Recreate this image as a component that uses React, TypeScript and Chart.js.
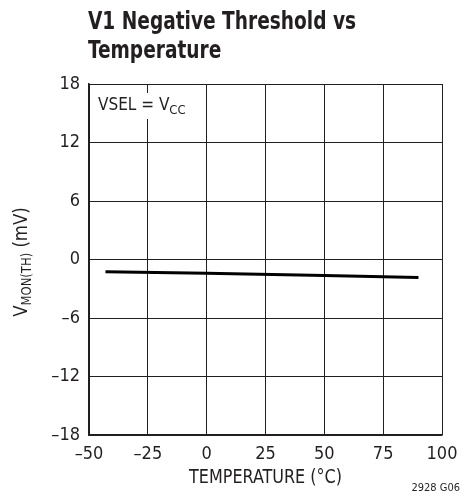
import React, { useEffect, useRef } from "react";
import { Chart, registerables } from "chart.js";

Chart.register(...registerables);

const temperatures = [-43, 0, 50, 90];
const thresholdMv = [-1.25, -1.42, -1.63, -1.85];
const xTicks = [-50, -25, 0, 25, 50, 75, 100];
const yTicks = [-18, -12, -6, 0, 6, 12, 18];
const titleLines = ["V1 Negative Threshold vs", "Temperature"];
const xTitle = "TEMPERATURE (°C)";
const footnote = "2928 G06";

const FONT = '"Liberation Sans Narrow", "DejaVu Sans Condensed", "Arial Narrow", sans-serif';

const fmt = (v: number) => String(v).replace("-", "\u2013");

function scaledText(ctx: CanvasRenderingContext2D, text: string, x: number, y: number, sx: number, align: "left" | "center" | "right") {
  const w = ctx.measureText(text).width * sx;
  let left = x;
  if (align === "center") left = x - w / 2;
  if (align === "right") left = x - w;
  ctx.save();
  ctx.translate(left, y);
  ctx.scale(sx, 1);
  ctx.textAlign = "left";
  ctx.fillText(text, 0, 0);
  ctx.restore();
}

const textPlugin = {
  id: "texts",
  afterDraw(chart: any) {
    const ctx = chart.ctx as CanvasRenderingContext2D;
    const area = chart.chartArea;
    ctx.save();
    ctx.fillStyle = "#231f20";
    ctx.textBaseline = "alphabetic";
    // Title
    ctx.font = `bold 24px ${FONT}`;
    scaledText(ctx, titleLines[0], area.left - 1, 29, 0.86, "left");
    scaledText(ctx, titleLines[1], area.left - 1, 58, 0.86, "left");

    // annotation box
    ctx.fillStyle = "#ffffff";
    ctx.fillRect(area.left + 3, 93, 84, 26);
    ctx.fillStyle = "#231f20";
    ctx.font = `17px ${FONT}`;
    const main = "VSEL = V";
    ctx.textAlign = "left";
    ctx.fillText(main, 98, 110);
    const w = ctx.measureText(main).width;
    ctx.font = `13px ${FONT}`;
    ctx.fillText("CC", 98 + w, 114);

    // X title
    ctx.font = `20px ${FONT}`;
    scaledText(ctx, xTitle, (area.left + area.right) / 2, 483, 0.89, "center");

    // footnote
    ctx.font = `11px ${FONT}`;
    ctx.textAlign = "right";
    ctx.fillText(footnote, 460, 491);

    // Y title with subscript
    ctx.translate(27, 262);
    ctx.rotate(-Math.PI / 2);
    const parts: [string, number, number][] = [
      ["V", 20, 0],
      ["MON(TH)", 14, 4],
      [" (mV)", 20, 0],
    ];
    const sx = 0.92;
    let total = 0;
    for (const [t, s] of parts) {
      ctx.font = `${s}px ${FONT}`;
      total += ctx.measureText(t).width * sx;
    }
    let x = -total / 2;
    for (const [t, s, dy] of parts) {
      ctx.font = `${s}px ${FONT}`;
      scaledText(ctx, t, x, dy, sx, "left");
      x += ctx.measureText(t).width * sx;
    }
    ctx.restore();
  },
};

export default function App() {
  const ref = useRef<HTMLCanvasElement>(null);
  useEffect(() => {
    document.body.style.margin = "0";
    const chart = new Chart(ref.current!, {
      type: "line",
      data: {
        datasets: [
          {
            data: temperatures.map((t, i) => ({ x: t, y: thresholdMv[i] })),
            borderColor: "#000000",
            borderWidth: 3,
            pointRadius: 0,
            tension: 0,
          },
        ],
      },
      options: {
        animation: false,
        responsive: false,
        layout: { padding: { left: 0, top: 84, right: 29, bottom: 0 } },
        plugins: { legend: { display: false }, tooltip: { enabled: false } },
        scales: {
          x: {
            type: "linear",
            min: -50,
            max: 100,
            afterBuildTicks: (s: any) => {
              s.ticks = xTicks.map((v) => ({ value: v }));
            },
            afterFit: (s: any) => {
              s.height = 63;
            },
            grid: { color: "#231f20", lineWidth: 1, drawTicks: false },
            border: { color: "#231f20", width: 1.5 },
            ticks: {
              padding: 9,
              color: "#231f20",
              font: { family: FONT, size: 18 },
              maxRotation: 0,
              callback: (v: any) => fmt(v),
            },
          },
          y: {
            type: "linear",
            min: -18,
            max: 18,
            afterBuildTicks: (s: any) => {
              s.ticks = yTicks.map((v) => ({ value: v }));
            },
            afterFit: (s: any) => {
              s.width = 89;
            },
            grid: { color: "#231f20", lineWidth: 1, drawTicks: false },
            border: { color: "#231f20", width: 1.5 },
            ticks: {
              padding: 9,
              color: "#231f20",
              font: { family: FONT, size: 18 },
              callback: (v: any) => fmt(v),
            },
          },
        },
      },
      plugins: [textPlugin],
    } as any);
    return () => chart.destroy();
  }, []);
  return <canvas ref={ref} width={471} height={498} style={{ display: "block" }} />;
}
